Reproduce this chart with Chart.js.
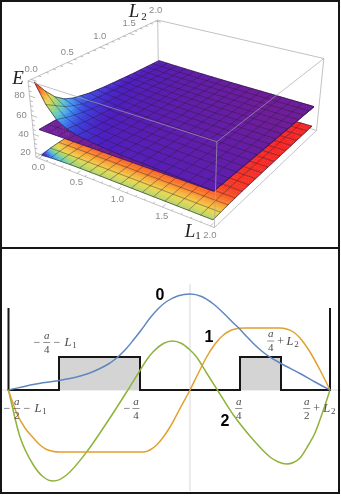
<!DOCTYPE html>
<html><head><meta charset="utf-8">
<style>
html,body{margin:0;padding:0;background:#fff;width:341px;height:497px;overflow:hidden}
canvas{position:absolute;left:0;filter:blur(.45px)}
#c1{top:0}#c2{top:250px}
.f{position:absolute;background:#161616}
</style>
<script src="https://cdn.jsdelivr.net/npm/chart.js@4"></script>
</head><body>
<canvas id="c1" width="341" height="247"></canvas>
<canvas id="c2" width="341" height="247"></canvas>
<div class="f" style="left:0;top:0;width:2px;height:494px"></div>
<div class="f" style="left:338px;top:0;width:2px;height:494px"></div>
<div class="f" style="left:0;top:0;width:340px;height:2px"></div>
<div class="f" style="left:0;top:247px;width:340px;height:2px"></div>
<div class="f" style="left:0;top:492px;width:340px;height:2px"></div>
<script>
// ---------- panel 1 data: energy surfaces E(L1,L2); rows = L1, columns = L2
const L1Nodes=[0,.125,.25,.375,.5,.75,1,1.5,2];
const L2Nodes=[0,.125,.25,.375,.5,.75,1,1.5,2];
const energy0=[
[93.4,80,69,62,58,54,52,49.5,48],
[74,68,62,58,55,52.5,51,49,47.5],
[62,59,56.5,54.5,53,51,50,48.5,47],
[56,54.5,53,52,51,49.8,49,47.8,46.6],
[53,52,51,50.3,49.7,48.8,48.2,47.2,46.2],
[50.5,49.9,49.3,48.8,48.4,47.8,47.3,46.4,45.5],
[49,48.6,48.2,47.8,47.5,47,46.5,45.7,44.9],
[48,47.6,47.2,46.9,46.6,46.1,45.6,44.8,44],
[47,46.7,46.4,46.1,45.8,45.3,44.8,43.9,43]];
const energy1=[
[44.5,44.7,44.9,45,45.1,45.2,45.2,45.2,45],
[44.7,44.9,45,45.1,45.2,45.2,45.2,45.2,45],
[44.9,45,45.1,45.2,45.2,45.2,45.2,45,44.8],
[45,45.1,45.2,45.2,45.2,45.2,45.1,45,44.7],
[45.1,45.2,45.3,45.3,45.3,45.2,45.1,44.9,44.6],
[45.4,45.4,45.4,45.4,45.3,45.2,45,44.7,44.3],
[45.6,45.6,45.6,45.5,45.4,45.2,45,44.5,44],
[46.1,46,45.9,45.7,45.5,45.2,44.9,44.1,43.3],
[46.6,46.3,46,45.7,45.4,45,44.4,43.5,42.5]];
const energy2=[
[16.7,18.6,19.4,19.8,20.1,20.3,20.4,20.5,20.5],
[17.6,19,19.6,19.9,20.1,20.3,20.4,20.5,20.5],
[18.1,19.1,19.7,20,20.2,20.3,20.4,20.5,20.5],
[18.5,19.2,19.7,20,20.2,20.35,20.4,20.5,20.5],
[18.7,19.2,19.75,20.05,20.3,20.4,20.45,20.5,20.5],
[18.8,19.25,19.75,20.05,20.3,20.4,20.45,20.5,20.5],
[18.8,19.25,19.75,20.05,20.3,20.4,20.45,20.5,20.5],
[18.8,19.25,19.75,20.05,20.3,20.4,20.45,20.5,20.5],
[18.8,19.25,19.75,20.05,20.3,20.4,20.45,20.5,20.5]];
const L1Ticks=[0,.5,1,1.5,2], L2Ticks=[0,.5,1,1.5,2], ETicks=[20,40,60,80];

// ---------- panel 2 data: wavefunctions and potential
const x0=[-.908,-.783,-.655,-.567,-.508,-.45,-.408,-.367,-.325,-.283,-.242,-.2,-.158,-.117,-.058,0,.058,.117,.167,.217,.245,.283,.317,.358,.4,.455,.55,.625,.7];
const psi0=[0,5.5,9.5,13,16.5,21.5,26,32,40,50,60.5,72,81.5,88.5,94.3,96,93.5,86,77,67,61.7,53.5,46.5,39,32.8,26.5,16.5,8,0];
const x1=[-.908,-.867,-.825,-.783,-.75,-.717,-.683,-.655,-.233,-.2,-.167,-.133,-.1,-.05,0,.042,.083,.125,.167,.208,.245,.275,.45,.483,.517,.55,.6,.65,.7];
const psi1=[0,-23,-38,-48,-55,-59.5,-61.5,-62,-62,-60,-55,-47,-37,-18.5,0,17,33,46,55,60,61.8,62,62,61,58,52,38,20,0];
const x2=[-.908,-.85,-.783,-.733,-.683,-.617,-.517,-.417,-.317,-.255,-.217,-.183,-.133,-.088,-.042,0,.033,.083,.137,.217,.317,.4,.442,.483,.517,.55,.592,.625,.667,.7];
const psi2=[0,-47,-75,-87,-91,-85,-62,-33,-2,18,30,38.5,46.5,49,46.5,40,33,17,0,-25,-50,-67,-72,-74,-72.5,-68,-55,-43,-20,0];
const xWell=[-.9075,-.9075,-.655,-.655,-.25,-.25,.25,.25,.455,.455,.7,.7];
const vWell=[82,0,0,33,33,0,0,33,33,0,0,82];
const xShade=[-.65,-.255,-.25,.255,.45];
const vShade=[33,33,null,33,33];

// ---------- camera: least-squares fit of box corners to the picture
const calib=[[0,0,0,36,157],[1,0,0,214,228],[0,0,1,28,81],[1,0,1,217,141],[0,1,1,157.7,20],[1,1,1,324,59],[1,1,0,316.5,130],[.5,0,0,118.3,189.8],[0,.5,1,99.6,47.3]];
function fitCamera(pts){
  const A=[],b=[];
  pts.forEach(([u,v,w,x,y])=>{
    A.push([u,v,w,1,0,0,0,0,-x*u,-x*v,-x*w]);b.push(x);
    A.push([0,0,0,0,u,v,w,1,-y*u,-y*v,-y*w]);b.push(y);
  });
  const n=11,M=[];
  for(let i=0;i<n;i++){M.push([]);for(let j=0;j<=n;j++){let s=0;
    for(let k=0;k<A.length;k++)s+=A[k][i]*(j<n?A[k][j]:b[k]);M[i].push(s);}}
  for(let i=0;i<n;i++){let p=i;for(let r=i+1;r<n;r++)if(Math.abs(M[r][i])>Math.abs(M[p][i]))p=r;
    [M[i],M[p]]=[M[p],M[i]];
    for(let r=0;r<n;r++)if(r!==i){const f=M[r][i]/M[i][i];for(let c=i;c<=n;c++)M[r][c]-=f*M[i][c];}}
  return M.map((r,i)=>r[n]/r[i]);
}
const cam=fitCamera(calib);
const EMIN=15,EMAX=95,PAD=.04;
function projUVW(u,v,w){
  const d=cam[8]*u+cam[9]*v+cam[10]*w+1;
  return {x:(cam[0]*u+cam[1]*v+cam[2]*w+cam[3])/d,y:(cam[4]*u+cam[5]*v+cam[6]*w+cam[7])/d};
}
function proj(l1,l2,e){return projUVW((l1+PAD)/(2+2*PAD),(l2+PAD)/(2+2*PAD),(e-EMIN)/(EMAX-EMIN));}

function sample(grid,l1,l2){
  const seg=(n,v)=>{let i=0;while(i<n.length-2&&v>n[i+1])i++;return [i,(v-n[i])/(n[i+1]-n[i])];};
  const [i,s]=seg(L1Nodes,l1),[j,t]=seg(L2Nodes,l2);
  return (grid[i][j]*(1-t)+grid[i][j+1]*t)*(1-s)+(grid[i+1][j]*(1-t)+grid[i+1][j+1]*t)*s;
}
const stops=[[0,112,30,155],[.2,78,32,195],[.3,60,70,225],[.4,65,145,245],[.5,95,200,200],[.6,160,215,110],[.7,235,215,80],[.8,250,160,50],[.9,250,80,35],[1,245,35,35]];
function ramp(t){t=Math.max(0,Math.min(1,t));let k=0;while(k<stops.length-2&&t>stops[k+1][0])k++;
  const a=stops[k],b=stops[k+1],f=(t-a[0])/(b[0]-a[0]);
  return `rgb(${[1,2,3].map(i=>Math.round(a[i]+(b[i]-a[i])*f)).join(',')})`;}

function nodePoints(grid){const o=[];L1Nodes.forEach((a,i)=>L2Nodes.forEach((b,j)=>o.push(proj(a,b,grid[i][j]))));return o;}
function edge(a,b){return {type:'scatter',data:[projUVW(...a),projUVW(...b)],showLine:true,borderColor:'rgba(165,165,165,.85)',borderWidth:.8,pointRadius:0,fill:false};}

const surfacePlugin={id:'surface',beforeDatasetDraw(chart,args){
  const ds=chart.data.datasets[args.index];if(!ds.surface)return;
  const {grid,lo,hi,gamma}=ds.surface,ctx=chart.ctx,X=chart.scales.x,Y=chart.scales.y;
  const S=(a,b)=>{const p=proj(a,b,sample(grid,a,b));return [X.getPixelForValue(p.x),Y.getPixelForValue(p.y)];};
  const N=64,h=2/N;
  ctx.save();ctx.lineWidth=.5;
  for(let j=N-1;j>=0;j--)for(let i=0;i<N;i++){
    const a=i*h,b=j*h,c=ramp(Math.pow(Math.max(0,(sample(grid,a+h/2,b+h/2)-lo)/(hi-lo)),gamma));
    const q=[S(a,b),S(a+h,b),S(a+h,b+h),S(a,b+h)];
    ctx.beginPath();q.forEach((p,k)=>k?ctx.lineTo(p[0],p[1]):ctx.moveTo(p[0],p[1]));ctx.closePath();
    ctx.fillStyle=c;ctx.strokeStyle=c;ctx.fill();ctx.stroke();
  }
  const line=(f,col,w)=>{ctx.beginPath();for(let k=0;k<=N;k++){const p=f(k*h);k?ctx.lineTo(p[0],p[1]):ctx.moveTo(p[0],p[1]);}ctx.strokeStyle=col;ctx.lineWidth=w;ctx.stroke();};
  for(let m=1;m<16;m++){const v=m*.125;
    line(t=>S(v,t),'rgba(35,30,45,.55)',.75);line(t=>S(t,v),'rgba(35,30,45,.55)',.75);}
  [0,2].forEach(v=>{line(t=>S(v,t),'rgba(35,25,60,.8)',.8);line(t=>S(t,v),'rgba(35,25,60,.8)',.8);});
  ctx.restore();
}};

const labels3d={id:'labels3d',afterDatasetsDraw(chart){
  const ctx=chart.ctx,X=chart.scales.x,Y=chart.scales.y;
  const pt=p=>[X.getPixelForValue(p.x),Y.getPixelForValue(p.y)];
  ctx.save();ctx.strokeStyle='rgba(150,150,150,.9)';ctx.lineWidth=.7;
  const tick=(a,b,len)=>{const p=pt(a),q=pt(b);ctx.beginPath();ctx.moveTo(p[0],p[1]);
    ctx.lineTo(p[0]+(q[0]-p[0])*len,p[1]+(q[1]-p[1])*len);ctx.stroke();};
  for(let m=0;m<=20;m++){const v=m/10,len=m%5?.012:.025;
    tick(proj(v,-PAD,EMIN),proj(v,2+PAD,EMIN),len*1.2);
    tick(proj(-PAD,v,EMAX),proj(2+PAD,v,EMAX),len*1.2);}
  for(let e=20;e<=90;e+=5){tick(proj(-PAD,-PAD,e),proj(2+PAD,-PAD,e),(e%20?.012:.025)*1.2);}
  ctx.fillStyle='#8a8a8a';ctx.font='9.5px "Liberation Sans"';ctx.textAlign='center';ctx.textBaseline='middle';
  L1Ticks.forEach(v=>{const p=pt(proj(v,-PAD,EMIN));ctx.fillText(v.toFixed(1),p[0]-.5,p[1]+9.5);});
  L2Ticks.forEach(v=>{const p=pt(proj(-PAD,v,EMAX));ctx.fillText(v.toFixed(1),p[0],p[1]-10.5);});
  ETicks.forEach(v=>{const p=pt(proj(-PAD,-PAD,v));ctx.fillText(String(v),p[0]-10,p[1]);});
  ctx.fillStyle='#222';ctx.font='italic 19px "Liberation Serif"';ctx.textAlign='center';
  ctx.fillText('E',18,79);ctx.fillText('L',134,12);ctx.fillText('L',190,232);
  ctx.font='11px "Liberation Serif"';ctx.fillText('2',144,17);ctx.fillText('1',198,236);
  ctx.restore();
}};

const common={responsive:false,animation:false,events:[],layout:{padding:0},
  plugins:{legend:{display:false},tooltip:{enabled:false}}};

new Chart(document.getElementById('c1'),{type:'scatter',plugins:[surfacePlugin,labels3d],data:{datasets:[
  Object.assign(edge([1,0,1],[1,0,0]),{order:0}),
  Object.assign(edge([0,0,1],[1,0,1]),{order:0}),
  Object.assign(edge([1,0,1],[1,1,1]),{order:0}),
  Object.assign(edge([0,0,0],[1,0,0]),{order:0}),
  Object.assign(edge([1,0,0],[1,1,0]),{order:0}),
  Object.assign(edge([0,0,0],[0,0,1]),{order:0}),
  {order:1,data:nodePoints(energy0),pointRadius:0,showLine:false,surface:{grid:energy0,lo:44.5,hi:93.4,gamma:.75}},
  {order:2,data:nodePoints(energy1),pointRadius:0,showLine:false,surface:{grid:energy1,lo:44,hi:4000,gamma:1}},
  {order:3,data:nodePoints(energy2),pointRadius:0,showLine:false,surface:{grid:energy2,lo:16,hi:20.5,gamma:1}},
  Object.assign(edge([0,1,1],[1,1,1]),{order:4}),
  Object.assign(edge([0,0,1],[0,1,1]),{order:4}),
  Object.assign(edge([1,1,1],[1,1,0]),{order:4}),
  Object.assign(edge([0,1,1],[0,1,0]),{order:4}),
  Object.assign(edge([0,1,0],[1,1,0]),{order:4}),
  Object.assign(edge([0,0,0],[0,1,0]),{order:4})
]},options:Object.assign({},common,{scales:{
  x:{type:'linear',min:0,max:341,display:false},
  y:{type:'linear',min:0,max:247,reverse:true,display:false}}})});

// ---------- panel 2
const zip=(xs,ys)=>xs.map((x,i)=>({x,y:ys[i]}));
const curve=(xs,ys,c)=>({type:'scatter',data:zip(xs,ys),showLine:true,borderColor:c,borderWidth:1.5,pointRadius:0,cubicInterpolationMode:'monotone',fill:false});
function frac(ctx,top,bot,x,y){
  ctx.font='italic 11px "Liberation Serif"';ctx.fillText(top,x,y-6.5);
  ctx.font='11px "Liberation Serif"';ctx.fillText(bot,x,y+7.5);
  ctx.beginPath();ctx.moveTo(x-3.5,y);ctx.lineTo(x+3.5,y);ctx.stroke();
}
function sub(ctx,txt,n,x,y,dx){
  ctx.font='italic 12.5px "Liberation Serif"';ctx.fillText(txt,x,y);
  ctx.font='9px "Liberation Serif"';ctx.fillText(n,x+(dx||6.5),y+2.5);
}
const labels2d={id:'labels2d',afterDatasetsDraw(chart){
  const ctx=chart.ctx;ctx.save();ctx.textAlign='center';ctx.textBaseline='middle';
  ctx.fillStyle='#4a4a4a';ctx.strokeStyle='#4a4a4a';ctx.lineWidth=.6;
  const op=(s,x,y)=>{ctx.font='12px "Liberation Serif"';ctx.fillText(s,x,y);};
  op('\u2212',37,93);frac(ctx,'a','4',46.7,92.5);op('\u2212',57,93);sub(ctx,'L','1',68,93);
  op('\u2212',7,159);frac(ctx,'a','2',16.7,158.5);op('\u2212',27,159);sub(ctx,'L','1',38,159);
  op('\u2212',127,159);frac(ctx,'a','4',136,158.5);
  frac(ctx,'a','4',238.7,158.5);
  frac(ctx,'a','2',306.7,158.5);op('+',316.7,159);sub(ctx,'L','2',326.7,159);
  frac(ctx,'a','4',270.7,91);op('+',280.7,92);sub(ctx,'L','2',290,92);
  ctx.fillStyle='#000';ctx.font='bold 16px "Liberation Sans"';
  ctx.fillText('0',160,45.5);ctx.fillText('1',209,87.5);ctx.fillText('2',225,171.5);
  ctx.restore();
}};
new Chart(document.getElementById('c2'),{type:'scatter',plugins:[labels2d],data:{datasets:[
  curve(x0,psi0,'#5e87c0'),
  curve(x1,psi1,'#e2a02e'),
  curve(x2,psi2,'#8fb33a'),
  {type:'scatter',data:zip(xWell,vWell),showLine:true,borderColor:'#161616',borderWidth:2,pointRadius:0,fill:false,order:0},
  {type:'scatter',data:zip(xShade,vShade),showLine:true,borderWidth:0,borderColor:'rgba(0,0,0,0)',backgroundColor:'#d4d4d4',pointRadius:0,fill:'origin',spanGaps:false,order:5},
  {type:'scatter',data:[{x:-.95,y:0},{x:.755,y:0}],showLine:true,borderColor:'#dedede',borderWidth:1.2,pointRadius:0,order:6},
  {type:'scatter',data:[{x:0,y:106},{x:0,y:-101}],showLine:true,borderColor:'#dedede',borderWidth:1.2,pointRadius:0,order:6}
]},options:Object.assign({},common,{scales:{
  x:{type:'linear',min:-.95,max:.755,display:false},
  y:{type:'linear',min:-107,max:140,display:false}}})});
</script>
</body></html>
